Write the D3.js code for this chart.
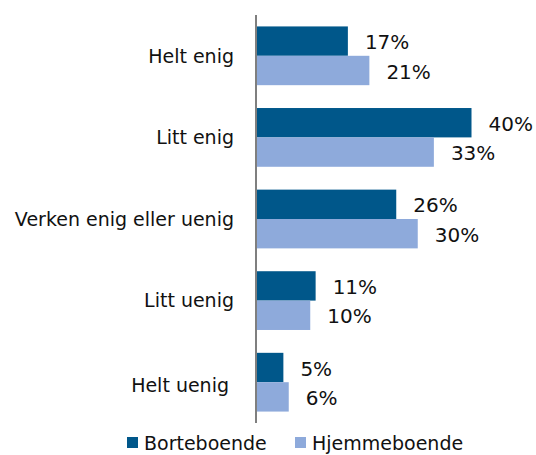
<!DOCTYPE html>
<html>
<head>
<meta charset="utf-8">
<script src="https://cdn.jsdelivr.net/npm/d3@7"></script>
<style>
  html, body { margin: 0; padding: 0; background: #fff; }
  svg { display: block; }
  text { font-family: "DejaVu Sans", sans-serif; fill: #111; }
</style>
</head>
<body>
<div id="chart"></div>
<script>
// Survey answers, share of respondents (%) per group
const categories = ["Helt enig", "Litt enig", "Verken enig eller uenig", "Litt uenig", "Helt uenig"];
const seriesNames = ["Borteboende", "Hjemmeboende"];
const borteboende = [17, 40, 26, 11, 5];
const hjemmeboende = [21, 33, 30, 10, 6];
const seriesColors = ["#00578A", "#8EAADB"];

const W = 536, H = 455;
const svg = d3.select("#chart").append("svg").attr("width", W).attr("height", H);

const x0 = 256.5;
const x = d3.scaleLinear().domain([0, 40]).range([x0, 471.5]);
const y = d3.scaleBand().domain(categories).range([15, 423]).paddingInner(0.28).paddingOuter(0.14);
const ySub = d3.scaleBand().domain(seriesNames).range([0, y.bandwidth()]);

const rows = categories.map((c, i) => ({ cat: c, values: [borteboende[i], hjemmeboende[i]] }));

const groups = svg.selectAll("g.row").data(rows).join("g")
  .attr("class", "row")
  .attr("transform", d => `translate(0,${y(d.cat)})`);

groups.selectAll("rect").data(d => d.values.map((v, j) => ({ v, s: seriesNames[j], j })))
  .join("rect")
  .attr("x", x(0))
  .attr("y", d => ySub(d.s))
  .attr("width", d => x(d.v) - x(0))
  .attr("height", ySub.bandwidth())
  .attr("fill", d => seriesColors[d.j]);

groups.selectAll("text.val").data(d => d.values.map((v, j) => ({ v, s: seriesNames[j] })))
  .join("text")
  .attr("class", "val")
  .attr("x", d => x(d.v) + 17)
  .attr("y", d => ySub(d.s) + ySub.bandwidth() / 2 + 1)
  .attr("dy", "0.36em")
  .attr("font-size", 20)
  .text(d => d.v + "%");

// Category labels (the last one sits slightly lower and further left)
const last = categories.length - 1;
svg.append("g").selectAll("text").data(categories).join("text")
  .attr("x", (d, i) => i === last ? 229 : 234)
  .attr("y", (d, i) => y(d) + y.bandwidth() / 2 + (i === last ? 3 : 0))
  .attr("dy", "0.36em")
  .attr("text-anchor", "end")
  .attr("font-size", 19)
  .text(d => d);

// Vertical category axis
svg.append("line")
  .attr("x1", x0 - 0.5).attr("x2", x0 - 0.5)
  .attr("y1", 15).attr("y2", 423)
  .attr("stroke", "#7f7f7f").attr("stroke-width", 2);

// Legend
const legendX = [127, 295];
const legend = svg.append("g").selectAll("g").data(seriesNames).join("g")
  .attr("transform", (d, i) => `translate(${legendX[i]},437)`);
legend.append("rect").attr("width", 11).attr("height", 11).attr("fill", (d, i) => seriesColors[i]);
legend.append("text").attr("x", 17).attr("y", 6.5).attr("dy", "0.36em")
  .attr("font-size", 19).text(d => d);
</script>
</body>
</html>
